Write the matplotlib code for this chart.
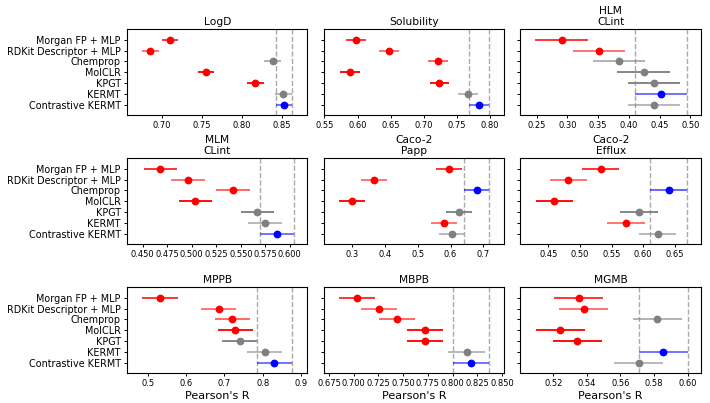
import numpy as np
import matplotlib
matplotlib.use("Agg")
import matplotlib.pyplot as plt

# Models (top to bottom)
models = ['Morgan FP + MLP', 'RDKit Descriptor + MLP', 'Chemprop', 'MolCLR',
          'KPGT', 'KERMT', 'Contrastive KERMT']

tasks = ['LogD', 'Solubility', 'HLM\nCLint', 'MLM\nCLint', 'Caco-2\nPapp',
         'Caco-2\nEfflux', 'MPPB', 'MBPB', 'MGMB']

# Pearson's R (mean) per task
logd = [0.710, 0.685, 0.839, 0.755, 0.817, 0.852, 0.853]
solubility = [0.598, 0.647, 0.7215, 0.589, 0.7235, 0.767, 0.7835]
hlm = [0.2905, 0.352, 0.3845, 0.424, 0.4415, 0.4518, 0.4405]
mlm = [0.468, 0.496, 0.542, 0.5035, 0.567, 0.5745, 0.587]
papp = [0.595, 0.367, 0.6795, 0.300, 0.626, 0.580, 0.603]
efflux = [0.533, 0.4816, 0.6404, 0.4596, 0.5933, 0.573, 0.6231]
mppb = [0.532, 0.685, 0.7205, 0.7283, 0.740, 0.8054, 0.8298]
mbpb = [0.7033, 0.7258, 0.7436, 0.7722, 0.7719, 0.8140, 0.8186]
mgmb = [0.5352, 0.5382, 0.582, 0.5242, 0.5344, 0.5854, 0.571]

# half-width of the confidence interval per task
ci = [0.0105, 0.015, 0.0425, 0.017, 0.0385, 0.0295, 0.046, 0.0183, 0.0146]

# b = best, g = not significantly different, r = significantly worse
status = [
    ['r', 'r', 'g', 'r', 'r', 'g', 'b'],
    ['r', 'r', 'r', 'r', 'r', 'g', 'b'],
    ['r', 'r', 'g', 'g', 'g', 'b', 'g'],
    ['r', 'r', 'r', 'r', 'g', 'g', 'b'],
    ['r', 'r', 'b', 'r', 'g', 'r', 'g'],
    ['r', 'r', 'b', 'r', 'g', 'r', 'g'],
    ['r', 'r', 'r', 'r', 'g', 'g', 'b'],
    ['r', 'r', 'r', 'r', 'r', 'g', 'b'],
    ['r', 'r', 'g', 'r', 'r', 'b', 'g'],
]

values = [logd, solubility, hlm, mlm, papp, efflux, mppb, mbpb, mgmb]

xlims = [(0.656, 0.8825), (0.549, 0.821), (0.2236, 0.517),
         (0.434, 0.618), (0.2145, 0.7627), (0.4058, 0.691),
         (0.4463, 0.9166), (0.6697, 0.852), (0.5004, 0.6078)]
xticks = [np.arange(0.70, 0.851, 0.05), np.arange(0.55, 0.801, 0.05),
          np.arange(0.25, 0.501, 0.05), np.arange(0.45, 0.601, 0.025),
          np.arange(0.3, 0.71, 0.1), np.arange(0.45, 0.651, 0.05),
          np.arange(0.5, 0.91, 0.1), np.arange(0.675, 0.851, 0.025),
          np.arange(0.52, 0.601, 0.02)]
tick_fmt = ['%.2f', '%.2f', '%.2f', '%.3f', '%.1f', '%.2f', '%.1f', '%.3f', '%.2f']

colors = {'r': 'red', 'g': 'gray', 'b': 'blue'}
bar_alpha = [0.8, 0.55, 0.6, 0.95, 0.95, 0.55, 0.55]

fig, axes = plt.subplots(3, 3, figsize=(7.1, 4.03), dpi=100)
fig.subplots_adjust(left=0.179, right=0.987, top=0.928, bottom=0.0744,
                    wspace=0.09, hspace=0.5)

y = np.arange(len(models))
for i, ax in enumerate(axes.flat):
    vals = np.array(values[i])
    best = status[i].index('b')
    lo, hi = vals[best] - ci[i], vals[best] + ci[i]
    ax.axvline(lo, color='#aaaaaa', ls='--', lw=1, zorder=1)
    ax.axvline(hi, color='#aaaaaa', ls='--', lw=1, zorder=1)
    for j in range(len(models)):
        c = colors[status[i][j]]
        ax.errorbar(vals[j], y[j], xerr=ci[i], fmt='none', ecolor=c,
                    elinewidth=1.4, alpha=bar_alpha[j], zorder=2)
        ax.plot(vals[j], y[j], 'o', color=c, ms=4.6, zorder=3)
    ax.set_xlim(xlims[i])
    ax.set_ylim(6.95, -1.0)
    ax.set_xticks(xticks[i])
    ax.set_xticklabels([tick_fmt[i] % t for t in xticks[i]], fontsize=6)
    ax.set_yticks(y)
    if i % 3 == 0:
        ax.set_yticklabels(models, fontsize=6.9)
    else:
        ax.set_yticklabels([])
    ax.tick_params(length=2.5, width=0.7, pad=2)
    ax.set_title(tasks[i], fontsize=7.7, pad=3, linespacing=1.1)
    if i >= 6:
        ax.set_xlabel("Pearson's R", fontsize=8, labelpad=2)

plt.savefig('out.png', dpi=100)
